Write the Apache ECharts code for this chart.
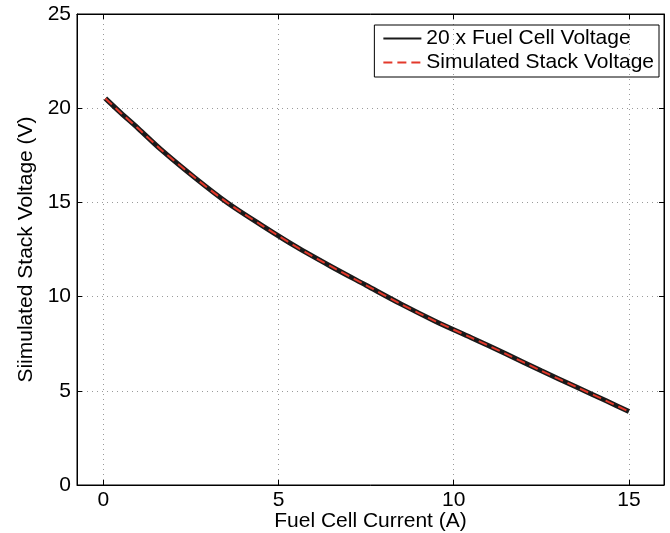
<!DOCTYPE html>
<html>
<head>
<meta charset="utf-8">
<script src="https://cdn.jsdelivr.net/npm/echarts@6/dist/echarts.min.js"></script>
<style>
html,body{margin:0;padding:0;background:#fff;}
#chart{width:670px;height:533px;}
</style>
</head>
<body>
<div id="chart"></div>
<script>
var currentA = [0.06, 0.5, 1.0, 1.65, 2.6, 3.55, 4.5, 5.5, 6.5, 7.5, 8.5, 9.5, 10.5, 11.5, 12.5, 13.5, 14.35, 15];
var fuelCellX20 = [20.52, 19.75, 18.92, 17.8, 16.33, 14.97, 13.81, 12.65, 11.6, 10.6, 9.6, 8.67, 7.82, 6.95, 6.06, 5.2, 4.47, 3.9];
var simulatedStack = [20.52, 19.75, 18.92, 17.8, 16.33, 14.97, 13.81, 12.65, 11.6, 10.6, 9.6, 8.67, 7.82, 6.95, 6.06, 5.2, 4.47, 3.9];
var xTicks = [0, 5, 10, 15];
var seriesNames = ['20 x Fuel Cell Voltage', 'Simulated Stack Voltage'];

function pairs(xs, ys){ return xs.map(function(x,i){ return [x, ys[i]]; }); }

var font = 'Liberation Sans, Arial, Helvetica, sans-serif';
var fs = 21;
var chart = echarts.init(document.getElementById('chart'), null, {renderer:'canvas'});
var gridSplit = {show:true, lineStyle:{color:'#9a9a9a', type:[1,4], width:1}};
chart.setOption({
  animation:false,
  backgroundColor:'#fff',
  grid:{left:77, right:6, top:14, bottom:48, outerBoundsMode:'none', containLabel:false, show:true, borderColor:'#000', borderWidth:1, backgroundColor:'transparent'},
  legend:{
    orient:'vertical', right:11, top:25,
    borderColor:'#000', borderWidth:1, padding:[3,5,4,8],
    itemWidth:38, itemHeight:14, itemGap:3,
    lineStyle:{width:2},
    itemStyle:{color:'rgba(0,0,0,0)', borderWidth:0, opacity:0},
    textStyle:{fontFamily:font, fontSize:fs, color:'#000'},
    data:seriesNames
  },
  xAxis:[{
    type:'value', min:-0.75, max:16,
    name:'Fuel Cell Current (A)', nameLocation:'middle', nameGap:26, nameMoveOverlap:false,
    nameTextStyle:{fontFamily:font, fontSize:fs, color:'#000'},
    axisLine:{show:true, onZero:false, lineStyle:{color:'#000'}},
    axisTick:{show:true, inside:true, length:5, customValues:xTicks, lineStyle:{color:'#000'}},
    axisLabel:{customValues:xTicks, fontFamily:font, fontSize:fs, color:'#000', margin:5},
    splitLine:gridSplit
  },{
    type:'value', position:'top', min:-0.75, max:16,
    axisLine:{show:true, onZero:false, lineStyle:{color:'#000'}},
    axisTick:{show:true, inside:true, length:5, customValues:xTicks, lineStyle:{color:'#000'}},
    axisLabel:{show:false},
    splitLine:{show:false}
  }],
  yAxis:[{
    type:'value', min:0, max:25, interval:5,
    name:'Siimulated Stack Voltage (V)', nameLocation:'middle', nameGap:40, nameMoveOverlap:false,
    nameTextStyle:{fontFamily:font, fontSize:fs, color:'#000'},
    axisLine:{show:true, onZero:false, lineStyle:{color:'#000'}},
    axisTick:{show:true, inside:true, length:5, lineStyle:{color:'#000'}},
    axisLabel:{fontFamily:font, fontSize:fs, color:'#000', margin:6},
    splitLine:gridSplit
  },{
    type:'value', position:'right', min:0, max:25, interval:5,
    axisLine:{show:true, onZero:false, lineStyle:{color:'#000'}},
    axisTick:{show:true, inside:true, length:5, lineStyle:{color:'#000'}},
    axisLabel:{show:false},
    splitLine:{show:false}
  }],
  series:[{
    name:seriesNames[0], type:'line', smooth:0.3, symbol:'none',
    data:pairs(currentA, fuelCellX20),
    lineStyle:{color:'#1a1a1a', width:5}, itemStyle:{color:'#1a1a1a'}, z:2
  },{
    name:seriesNames[1], type:'line', smooth:0.3, symbol:'none',
    data:pairs(currentA, simulatedStack),
    lineStyle:{color:'#e3392b', width:2, type:[9,5]}, itemStyle:{color:'#e3392b'}, z:3
  }]
});
</script>
</body>
</html>
